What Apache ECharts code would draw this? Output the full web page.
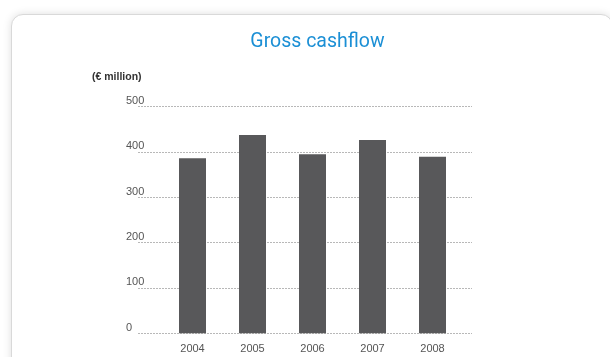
<!DOCTYPE html>
<html>
<head>
<meta charset="utf-8">
<script src="https://cdn.jsdelivr.net/npm/echarts@6/dist/echarts.min.js"></script>
<style>
  html, body { margin: 0; padding: 0; }
  body { width: 610px; height: 357px; position: relative; overflow: hidden; background: #ffffff; }
  #card {
    position: absolute; left: 11px; top: 14px; width: 600px; height: 420px;
    background: #fff; border: 1px solid #d9d9d9; border-radius: 12px;
    box-shadow: 0 0 9px rgba(0,0,0,0.13);
  }
  #chart { position: absolute; left: 0; top: 0; width: 610px; height: 357px; }
</style>
</head>
<body>
<div id="card"></div>
<div id="chart"></div>
<script>
// Gross cashflow, € million
const years = ['2004', '2005', '2006', '2007', '2008'];
const grossCashflow = [386, 437, 395, 426, 389];
const yTicks = [0, 100, 200, 300, 400, 500];

const chart = echarts.init(document.getElementById('chart'));
const textFont = '"Liberation Sans", "DejaVu Sans", sans-serif';

chart.setOption({
  animation: false,
  title: {
    text: 'Gross cashflow',
    left: 312.5, top: 27, textAlign: 'center',
    textStyle: { fontFamily: 'Roboto, sans-serif', fontSize: 19.5, fontWeight: 'normal', color: '#1b8fd5' }
  },
  graphic: [{
    type: 'text', left: 92, top: 71.5,
    style: { text: '(€ million)', font: 'bold 10.5px ' + textFont, fill: '#333' }
  }],
  grid: [
    // grid carrying the dashed gridlines and value labels
    { left: 138, right: 138, top: 106.5, bottom: 23.7 },
    // grid carrying the bars
    { left: 162.5, width: 300, top: 106.5, bottom: 23.7 }
  ],
  xAxis: [
    { type: 'category', gridIndex: 0, data: years, show: false },
    {
      type: 'category', gridIndex: 1, data: years,
      axisLine: { show: false }, axisTick: { show: false },
      axisLabel: { margin: 10, fontFamily: textFont, fontSize: 11, color: '#555' }
    }
  ],
  yAxis: [
    {
      type: 'value', gridIndex: 0, min: 0, max: 500, interval: 100,
      axisLine: { show: false }, axisTick: { show: false },
      axisLabel: {
        margin: 12, align: 'left', verticalAlign: 'bottom',
        fontFamily: textFont, fontSize: 11, color: '#555',
        formatter: v => yTicks.includes(v) ? String(v) : ''
      },
      splitLine: { show: true, lineStyle: { color: '#b8b8b8', width: 1, type: [2, 1] } }
    },
    { type: 'value', gridIndex: 1, min: 0, max: 500, interval: 100, show: false, splitLine: { show: false } }
  ],
  series: [{
    type: 'bar', xAxisIndex: 1, yAxisIndex: 1,
    data: grossCashflow, barWidth: 27,
    itemStyle: { color: '#58585a' }
  }]
});
</script>
</body>
</html>
